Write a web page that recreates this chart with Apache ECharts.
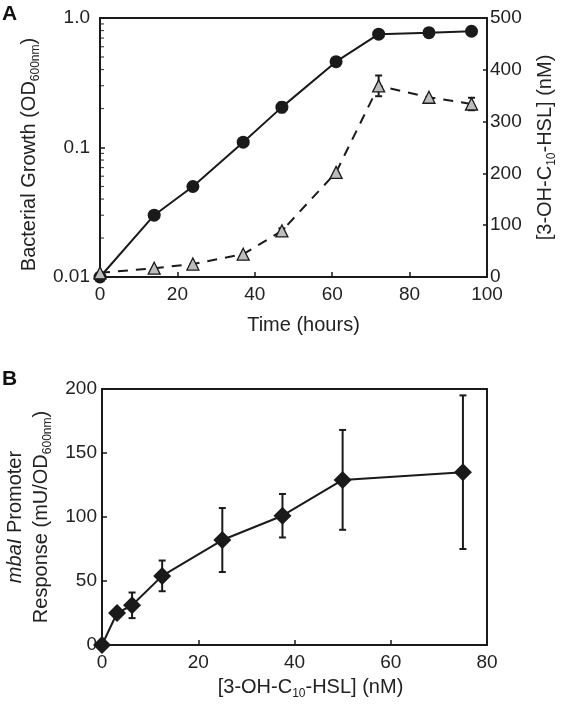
<!DOCTYPE html>
<html>
<head>
<meta charset="utf-8">
<script src="https://cdn.jsdelivr.net/npm/echarts@6/dist/echarts.min.js"></script>
<style>html,body{margin:0;padding:0;background:#fff}#c{width:566px;height:714px}</style>
</head>
<body>
<div id="c"></div>
<script>
// ---- Panel A data ----
const timeA = [0, 14, 24, 37, 47, 61, 72, 85, 96];
const odA = [0.01, 0.03, 0.05, 0.11, 0.205, 0.46, 0.75, 0.77, 0.79];
const odErrA = [0, 0, 0, 0, 0.018, 0, 0, 0, 0];
const hslA = [8, 17, 25, 44, 89, 202, 369, 347, 334];
const hslErrA = [0, 0, 0, 0, 5, 0, 20, 0, 12];
const xTicksA = [0, 20, 40, 60, 80, 100];
const leftTicksA = [0.01, 0.1, 1];
const rightTicksA = [0, 100, 200, 300, 400, 500];
const minorTicksA = [0.02,0.03,0.04,0.05,0.06,0.07,0.08,0.09,0.2,0.3,0.4,0.5,0.6,0.7,0.8,0.9];
// ---- Panel B data ----
const concB = [0, 3.125, 6.25, 12.5, 25, 37.5, 50, 75];
const respB = [0, 25, 31, 54, 82, 101, 129, 135];
const respErrB = [0, 0, 10, 12, 25, 17, 39, 60];
const xTicksB = [0, 20, 40, 60, 80];
const yTicksB = [0, 50, 100, 150, 200];

const FONT = "'Liberation Sans', Arial, Helvetica, sans-serif";
const INK = '#1a1a1a';
const TXT = '#222';

function errData(xs, ys, es) {
  const out = [];
  xs.forEach((x, i) => { if (es[i] > 0) out.push([x, ys[i] - es[i], ys[i] + es[i]]); });
  return out;
}
function errRender(params, api) {
  const x = api.value(0), lo = api.value(1), hi = api.value(2);
  const p1 = api.coord([x, hi]), p2 = api.coord([x, lo]);
  const w = 3.5;
  const st = { stroke: INK, lineWidth: 2, fill: null };
  return { type: 'group', children: [
    { type: 'line', shape: { x1: p1[0], y1: p1[1], x2: p2[0], y2: p2[1] }, style: st },
    { type: 'line', shape: { x1: p1[0] - w, y1: p1[1], x2: p1[0] + w, y2: p1[1] }, style: st },
    { type: 'line', shape: { x1: p2[0] - w, y1: p2[1], x2: p2[0] + w, y2: p2[1] }, style: st }
  ]};
}

const subStyle = { fontSize: 12, lineHeight: 12, padding: [13, 0, 0, 0], fontFamily: FONT, color: TXT };
const nameStyle = { fontSize: 20, fontFamily: FONT, color: TXT,
  rich: { s: subStyle, it: { fontSize: 20, fontStyle: 'italic', fontFamily: FONT, color: TXT, lineHeight: 26 }, n: { fontSize: 20, fontFamily: FONT, color: TXT, lineHeight: 26 } } };
const labelStyle = { fontSize: 19, fontFamily: FONT, color: TXT };
const axisLine = { show: true, lineStyle: { color: INK, width: 2 } };

const chart = echarts.init(document.getElementById('c'), null, { renderer: 'canvas' });
chart.setOption({
  animation: false,
  backgroundColor: '#fff',
  grid: [
    { left: 100, top: 18, width: 387, height: 259, show: true, borderColor: INK, borderWidth: 2, backgroundColor: 'transparent', outerBoundsMode: 'none', containLabel: false },
    { left: 102, top: 389, width: 385, height: 256, show: true, borderColor: INK, borderWidth: 2, backgroundColor: 'transparent', outerBoundsMode: 'none', containLabel: false }
  ],
  xAxis: [
    { gridIndex: 0, type: 'value', min: xTicksA[0], max: xTicksA[xTicksA.length - 1], interval: 20,
      axisLine, axisTick: { inside: true, length: 5, lineStyle: { color: INK, width: 1.5 } }, splitLine: { show: false },
      axisLabel: Object.assign({ margin: 8 }, labelStyle),
      name: 'Time (hours)', nameLocation: 'middle', nameGap: 38,
      nameTextStyle: Object.assign({}, nameStyle, { padding: [0, 0, 0, 20] }) },
    { gridIndex: 1, type: 'value', min: xTicksB[0], max: xTicksB[xTicksB.length - 1], interval: 20,
      axisLine, axisTick: { inside: true, length: 5, lineStyle: { color: INK, width: 1.5 } }, splitLine: { show: false },
      axisLabel: Object.assign({ margin: 8 }, labelStyle),
      name: '[3-OH-C{s|10}-HSL] (nM)', nameLocation: 'middle', nameGap: 32,
      nameTextStyle: Object.assign({}, nameStyle, { padding: [0, 0, 0, 32] }) }
  ],
  yAxis: [
    { gridIndex: 0, type: 'log', logBase: 10, min: leftTicksA[0], max: leftTicksA[leftTicksA.length - 1],
      axisLine, axisTick: { inside: true, length: 5, lineStyle: { color: INK, width: 1.5 } }, splitLine: { show: false },
      axisLabel: Object.assign({ margin: 10, formatter: v => (v >= 0.999 ? '1.0' : String(+(+v).toPrecision(1))) }, labelStyle),
      name: 'Bacterial Growth (OD{s|600nm})', nameLocation: 'middle', nameRotate: 90, nameGap: 48,
      nameTextStyle: Object.assign({}, nameStyle, { padding: [0, 14, 0, 0] }) },
    { gridIndex: 0, type: 'value', position: 'right', min: rightTicksA[0], max: rightTicksA[rightTicksA.length - 1], interval: 100,
      axisLine, axisTick: { inside: true, length: 4, lineStyle: { color: INK, width: 1.5 } }, splitLine: { show: false },
      axisLabel: Object.assign({ margin: 3 }, labelStyle),
      name: '[3-OH-C{s|10}-HSL] (nM)', nameLocation: 'middle', nameRotate: 90, nameGap: 46,
      nameTextStyle: nameStyle },
    { gridIndex: 1, type: 'value', min: yTicksB[0], max: yTicksB[yTicksB.length - 1], interval: 50,
      axisLine, axisTick: { inside: true, length: 5, lineStyle: { color: INK, width: 1.5 } }, splitLine: { show: false },
      axisLabel: Object.assign({ margin: 5 }, labelStyle),
      name: '{it|mbaI}{n| Promoter}\n{n|Response (mU/OD}{s|600nm}{n|)}', nameLocation: 'middle', nameRotate: 90, nameGap: 48,
      nameTextStyle: Object.assign({}, nameStyle, { lineHeight: 26 }) }
  ],
  graphic: [
    { type: 'text', left: 2, top: 4, style: { text: 'A', font: "bold 21px 'Liberation Sans', Arial", fill: '#111' } },
    { type: 'text', left: 2, top: 369, style: { text: 'B', font: "bold 21px 'Liberation Sans', Arial", fill: '#111' } }
  ],
  series: [
    { type: 'scatter', xAxisIndex: 0, yAxisIndex: 0, silent: true, clip: false, z: 5,
      data: minorTicksA.map(v => [xTicksA[0], v]), symbol: 'rect', symbolSize: [3, 1.2], symbolOffset: [2.5, 0],
      itemStyle: { color: INK } },
    { type: 'custom', xAxisIndex: 0, yAxisIndex: 0, z: 2, clip: false, renderItem: errRender,
      encode: { x: 0, y: [1, 2] }, data: errData(timeA, odA, odErrA) },
    { type: 'custom', xAxisIndex: 0, yAxisIndex: 1, z: 2, clip: false, renderItem: errRender,
      encode: { x: 0, y: [1, 2] }, data: errData(timeA, hslA, hslErrA) },
    { type: 'line', xAxisIndex: 0, yAxisIndex: 0, z: 3, clip: false,
      data: timeA.map((t, i) => [t, odA[i]]), symbol: 'circle', symbolSize: 13, showAllSymbol: true,
      lineStyle: { color: INK, width: 2 }, itemStyle: { color: INK, borderWidth: 0 } },
    { type: 'line', xAxisIndex: 0, yAxisIndex: 1, z: 4, clip: false,
      data: timeA.map((t, i) => [t, hslA[i]]), symbol: 'triangle', symbolSize: 12, showAllSymbol: true,
      lineStyle: { color: INK, width: 2, type: [10, 8] }, itemStyle: { color: '#bdbdbd', borderColor: INK, borderWidth: 1.3 } },
    { type: 'custom', xAxisIndex: 1, yAxisIndex: 2, z: 2, clip: false, renderItem: errRender,
      encode: { x: 0, y: [1, 2] }, data: errData(concB, respB, respErrB) },
    { type: 'line', xAxisIndex: 1, yAxisIndex: 2, z: 3, clip: false,
      data: concB.map((c, i) => [c, respB[i]]), symbol: 'diamond', symbolSize: 18, showAllSymbol: true,
      lineStyle: { color: INK, width: 2 }, itemStyle: { color: INK, borderWidth: 0 } }
  ]
});
</script>
</body>
</html>
